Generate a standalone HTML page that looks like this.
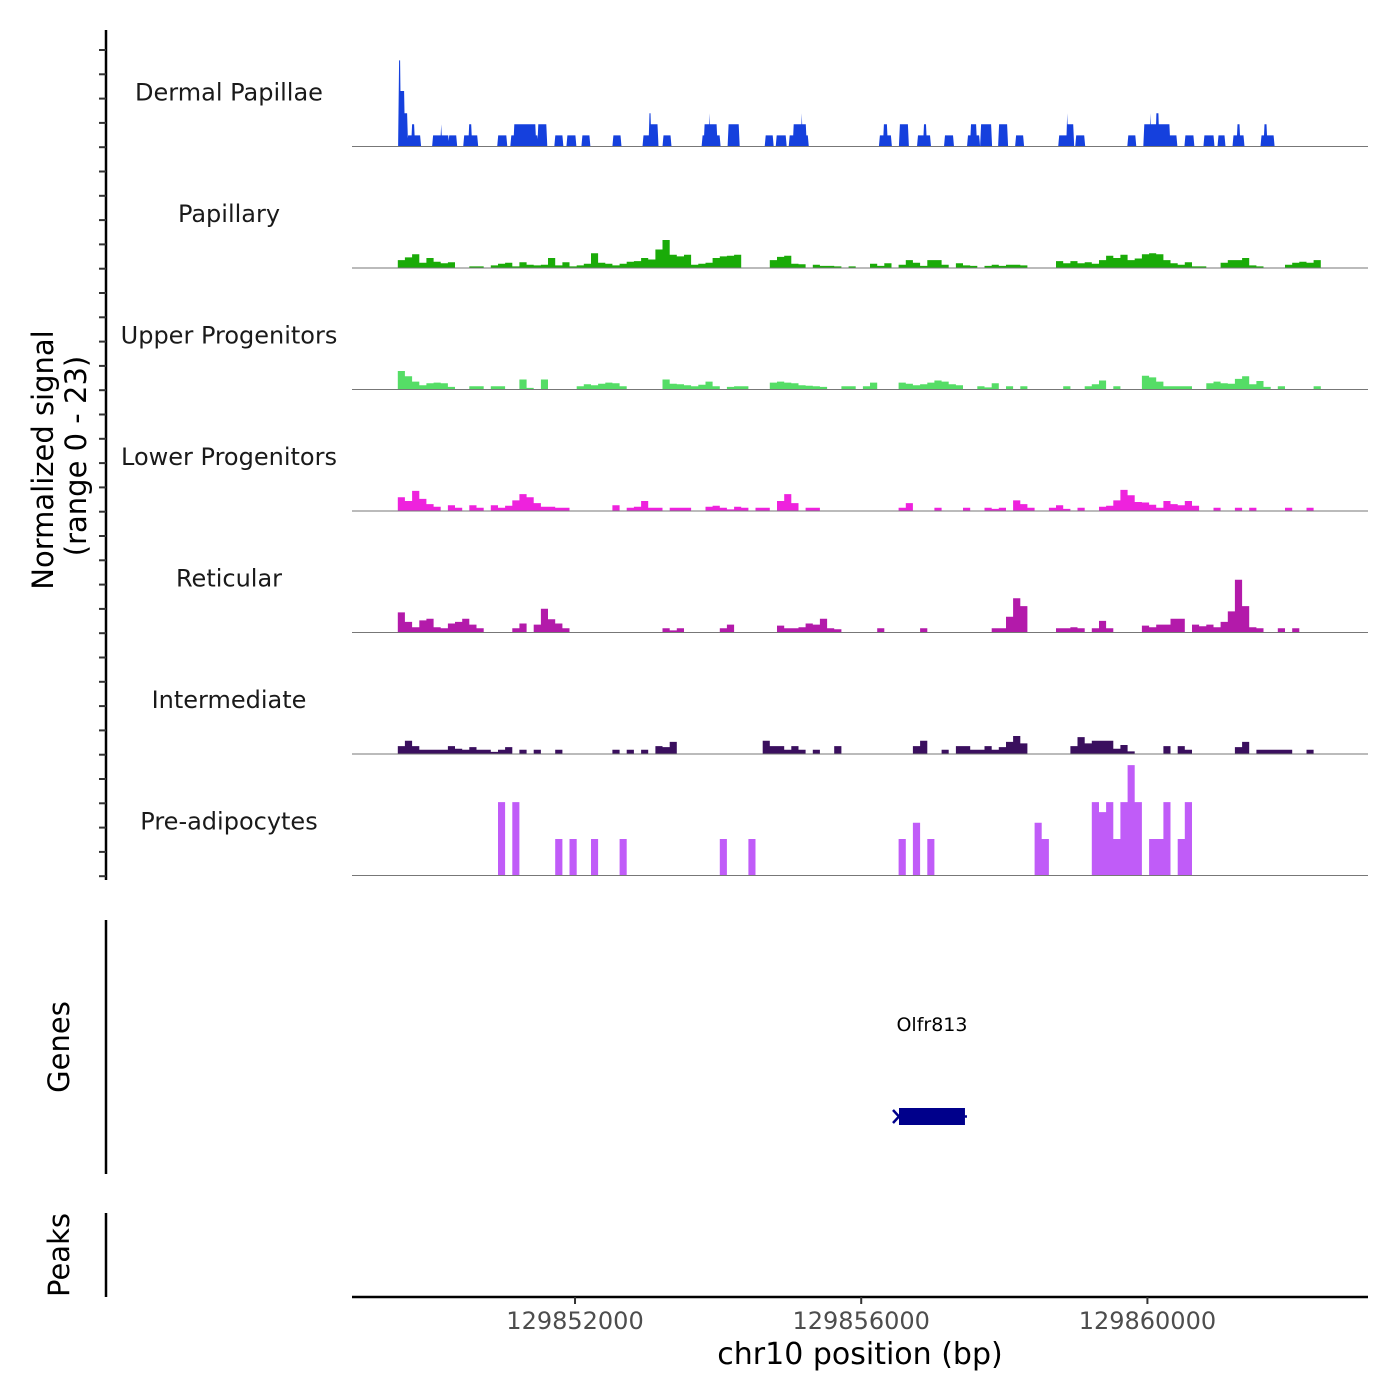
<!DOCTYPE html>
<html><head><meta charset="utf-8">
<style>
html,body{margin:0;padding:0;background:#fff;}
svg{display:block;font-family:"DejaVu Sans","Liberation Sans",sans-serif;}
</style></head>
<body>
<svg id="chart" width="1400" height="1400" viewBox="0 0 1400 1400" xmlns="http://www.w3.org/2000/svg">
<rect x="0" y="0" width="1400" height="1400" fill="#fff"/>
<g id="tracks"></g>
<g id="leftaxis"></g>
<text transform="translate(53,460) rotate(-90)" text-anchor="middle" font-size="29" fill="#000">Normalized signal</text>
<text transform="translate(86,456) rotate(-90)" text-anchor="middle" font-size="29" fill="#000">(range 0 - 23)</text>
<line x1="106" y1="920" x2="106" y2="1174" stroke="#000" stroke-width="2.5"/>
<text transform="translate(69,1047) rotate(-90)" text-anchor="middle" font-size="29" fill="#000">Genes</text>
<g id="genes"></g>
<line x1="106" y1="1213" x2="106" y2="1297" stroke="#000" stroke-width="2.5"/>
<text transform="translate(69,1255) rotate(-90)" text-anchor="middle" font-size="29" fill="#000">Peaks</text>
<g id="xaxis"></g>
<text x="860" y="1364" text-anchor="middle" font-size="30" fill="#000">chr10 position (bp)</text>
</svg>
<script>
// ---- data ----
const REGION_START = 129848883;   // bp
const REGION_END = 129863083;     // bp
const BIN_SIZE = 100;             // bp per bin (offset from REGION_START)
const BIN_OFFSET = 40;            // bp offset of first bin
const SIGNAL_MAX = 23;
const trackNames = ["Dermal Papillae","Papillary","Upper Progenitors","Lower Progenitors","Reticular","Intermediate","Pre-adipocytes"];
const trackColors = ["#1540dd","#1aab08","#55dd66","#ee22dd","#b31aaa","#3a0f5e","#c05cf8"];
const xTicks = [129852000,129856000,129860000];
const xTickLabels = ["129852000","129856000","129860000"];
// Dermal Papillae blocks: [startOffsetBp, endOffsetBp, signal]
const dermalBlocks = [[658,672,16.3],[672,728,10.5],[728,770,6.3],[784,952,2.1],[840,868,4.2],[1134,1344,2.1],[1246,1246,4.2],[1358,1456,2.1],[1568,1750,2.1],[1638,1666,4.2],[2044,2156,2.1],[2226,2590,2.1],[2268,2562,4.2],[2604,2716,4.2],[2842,2940,2.1],[3010,3122,2.1],[3220,3318,2.1],[3654,3752,2.1],[4074,4270,2.1],[4158,4172,6.3],[4172,4270,4.2],[4354,4452,2.1],[4900,5138,2.1],[4928,5096,4.2],[4998,4998,6.3],[5264,5404,4.2],[5782,5880,2.1],[5936,6062,2.1],[6118,6370,2.1],[6174,6342,4.2],[6286,6286,6.3],[7378,7532,2.1],[7434,7476,4.2],[7658,7770,4.2],[7910,8078,2.1],[7994,8022,4.2],[8288,8400,2.1],[8610,8764,2.1],[8652,8722,4.2],[8792,8932,4.2],[9044,9156,4.2],[9282,9380,2.1],[9884,10080,2.1],[9996,9996,6.3],[9996,10080,4.2],[10122,10234,2.1],[10850,10948,2.1],[11074,11522,2.1],[11074,11424,4.2],[11158,11158,6.3],[11242,11270,6.3],[11354,11354,4.2],[11648,11760,2.1],[11914,12040,2.1],[12110,12194,2.1],[12320,12460,2.1],[12376,12404,4.2],[12712,12880,2.1],[12754,12782,4.2]];
// binned signal (100 bp bins)
const papillaryBins = [0,0,0,0,0,0,1.5,2,2.6,1,1.9,1.2,0.9,1.1,0,0,0.3,0.3,0,0.5,0.8,1,0.3,1.1,0.6,0.5,0.6,1.9,0.5,1.1,0.3,0.5,0.8,2.8,1,0.8,0.5,0.8,1.2,1.3,1.9,1.6,3.5,5.3,2.5,2.2,2.5,0.6,0.8,1,1.9,2.2,2.3,2.5,0,0,0,0,1.5,2.1,2.3,0.8,0.7,0,0.6,0.4,0.4,0.3,0,0.3,0,0,0.8,0.4,0.9,0,0.6,1.5,1,0.4,1.5,1.5,0.6,0,0.9,0.5,0.4,0,0.4,0.6,0.4,0.6,0.6,0.5,0,0,0,0,1.3,0.9,1.3,0.9,1.1,0.8,1.5,2.3,1.9,2.5,1.5,1.8,2.6,2.8,2.6,1.5,0.9,0.6,1.1,0.3,0.3,0,0,1,1.5,1.5,1.9,0.5,0.3,0,0,0,0.6,1,1.2,1,1.5,0,0,0,0,0,0,0];
const upperBins = [0,0,0,0,0,0,3.5,2.5,1.5,0.8,1.2,1.3,1.2,0.5,0,0,0.6,0.6,0,0.6,0.6,0,0,1.9,0.3,0,1.9,0,0,0,0,0.6,1,0.8,1.1,1.3,1.2,0.6,0,0,0,0,0,1.9,1.1,1,0.8,0.6,0.9,1.5,0.6,0,0.5,0.6,0.6,0,0,0,1.3,1.5,1.3,1.2,0.8,0.7,0.6,0.5,0,0,0.6,0.6,0,0.6,1.3,0,0,0,1.3,1.1,0.8,1,1.3,1.7,1.5,1,0.8,0,0,0.6,0.4,1.2,0,0.6,0,0.6,0,0,0,0,0,0.6,0,0,0.6,1,1.7,0,0.6,0,0,0,2.6,2.3,1.5,0.6,0.6,0.6,0.6,0,0,1.2,1.5,1.2,1.1,2,2.5,1,1.6,0.5,0,0.6,0,0,0,0,0.6,0,0,0,0,0,0,0];
const lowerBins = [0,0,0,0,0,0,2.6,1.9,3.8,2.3,1.3,0.8,0,1.1,0.6,0,1.1,0.6,0,1.1,0.6,1,2,3.2,2.6,1.5,0.8,0.8,0.6,0.6,0,0,0,0,0,0,1.1,0,0.6,0.8,1.9,0.6,0.6,0,0.6,0.6,0.6,0,0,0.8,1,0.6,0.3,0.8,0.6,0,0.6,0.6,0,1.9,3.2,1.5,0,0.6,0.6,0,0,0,0,0,0,0,0,0,0,0,0.6,1.5,0,0,0,0.6,0,0,0,0.6,0,0,0.6,0.4,0.6,0,2,1.3,0.6,0,0,0.6,1.1,0.4,0,0.6,0,0,0.8,1,2,4,3,1.7,1.6,1.2,0.6,1.9,1.3,1.1,1.9,1,0,0,0.6,0,0,0.6,0,0.6,0,0,0,0,0.6,0,0,0.6,0,0,0,0,0,0,0,0];
const reticularBins = [0,0,0,0,0,0,3.8,2,1,2.3,2.6,1,0.8,1.7,2,2.6,1.5,0.8,0,0,0,0,0.8,1.7,0,1.5,4.5,2.5,1.7,0.8,0,0,0,0,0,0,0,0,0,0,0,0,0,0.8,0.4,0.8,0,0,0,0,0,0.8,1.5,0,0,0,0,0,0,1.3,0.8,0.8,1,1.7,1.5,2.6,0.8,0.6,0,0,0,0,0,0.8,0,0,0,0,0,0.8,0,0,0,0,0,0,0,0,0,0.8,0.8,3,6.5,5,0,0,0,0,0.8,0.8,1,0.8,0,0.8,2.2,0.8,0,0,0,0,1.3,1,1.5,1.5,2.6,2.6,0,1.5,1.2,1.5,1,2,4,10,5,1,0.8,0,0,0.8,0,0.8,0,0,0,0,0,0,0,0,0,0];
const intermediateBins = [0,0,0,0,0,0,1.5,2.5,1.5,0.8,0.8,0.8,0.8,1.5,1,0.8,1.3,0.8,0.8,0.4,0.8,1.3,0,0.8,0,0.8,0,0,0.8,0,0,0,0,0,0,0,0.8,0,0.8,0,0.8,0,1.5,1.3,2.3,0,0,0,0,0,0,0,0,0,0,0,0,2.5,1.5,1.5,0.8,1.5,0.8,0,0.8,0,0,1.5,0,0,0,0,0,0,0,0,0,0,1.5,2.5,0,0,0.8,0,1.5,1.5,0.8,0.8,1.5,0.8,1.3,2.3,3.4,2,0,0,0,0,0,0,1.5,3.2,2,2.5,2.5,2.5,1,1.7,0.5,0,0,0,0,1.5,0,1.5,0.8,0,0,0,0,0,0,1.3,2.3,0,0.8,0.8,0.8,0.8,0.8,0,0,0.8,0,0,0,0,0,0,0,0];
const preadipoBins = [0,0,0,0,0,0,0,0,0,0,0,0,0,0,0,0,0,0,0,0,13.9,0,13.9,0,0,0,0,0,6.9,0,6.9,0,0,6.9,0,0,0,6.9,0,0,0,0,0,0,0,0,0,0,0,0,0,6.9,0,0,0,6.9,0,0,0,0,0,0,0,0,0,0,0,0,0,0,0,0,0,0,0,0,6.9,0,10,0,6.9,0,0,0,0,0,0,0,0,0,0,0,0,0,0,10,6.9,0,0,0,0,0,0,13.9,12,13.9,6.9,13.9,20.9,13.9,0,6.9,6.9,13.9,0,6.9,13.9,0,0,0,0,0,0,0,0,0,0,0,0,0,0,0,0,0,0,0,0,0,0,0,0,0,0,0];
const binnedTracks = [papillaryBins, upperBins, lowerBins, reticularBins, intermediateBins, preadipoBins];
const geneName = "Olfr813";
const geneStart = 129856528, geneEnd = 129857450;

// ---- scales ----
const NS = "http://www.w3.org/2000/svg";
const X0 = 352, X1 = 1368;
const TRACK_TOP = 25, TRACK_H = 121.5;
function xScale(bp){ return X0 + (bp - REGION_START) / (REGION_END - REGION_START) * (X1 - X0); }
function baseY(i){ return TRACK_TOP + TRACK_H * (i + 1); }
function yScale(i, v){ return baseY(i) - v / SIGNAL_MAX * TRACK_H; }
function mk(tag, attrs, parent){ const e = document.createElementNS(NS, tag); for (const k in attrs) e.setAttribute(k, attrs[k]); parent.appendChild(e); return e; }

const tracksG = document.getElementById('tracks');
trackNames.forEach((name, i) => {
  const g = mk('g', {}, tracksG);
  
  
  const lbl = mk('text', {x: 229, y: baseY(i) - 46, 'text-anchor': 'middle', 'font-size': 24, fill: '#1a1a1a'}, g);
  lbl.textContent = name;
  
  
  let d = '';
  if (i === 0) {
    dermalBlocks.forEach(b => {
      const a = xScale(REGION_START + b[0]), c = xScale(REGION_START + b[1]);
      const y = yScale(i, b[2]), yb = baseY(i);
      d += `M${(a-1).toFixed(1)},${yb}L${a.toFixed(1)},${y.toFixed(1)}L${c.toFixed(1)},${y.toFixed(1)}L${(c+1).toFixed(1)},${yb}Z`;
    });
  } else {
    const bins = binnedTracks[i - 1];
    const yb = baseY(i);
    d = `M${X0},${yb}`;
    bins.forEach((v, k) => {
      const a = xScale(REGION_START + BIN_OFFSET + k * BIN_SIZE), c = xScale(REGION_START + BIN_OFFSET + (k + 1) * BIN_SIZE);
      const y = yScale(i, v);
      d += `L${a.toFixed(1)},${y.toFixed(1)}L${c.toFixed(1)},${y.toFixed(1)}`;
    });
    d += `L${xScale(REGION_START + BIN_OFFSET + bins.length * BIN_SIZE).toFixed(1)},${yb}Z`;
  }
  const p = mk('path', {d: d, fill: trackColors[i]}, g);
  
  
  const bl = mk('line', {x1: X0, x2: X1, y1: baseY(i), y2: baseY(i), stroke: '#777', 'stroke-width': 1}, g);
  
  
});

// left axis
const la = document.getElementById('leftaxis');
const al = mk('line', {x1: 106, x2: 106, y1: 30, y2: 880, stroke: '#000', 'stroke-width': 2.5}, la);


for (let k = 0; k < 35; k++) {
  const y = 50 + k * 24.3;
  const t = mk('line', {x1: 99, x2: 106, y1: y, y2: y, stroke: '#333', 'stroke-width': 2}, la);
  
  
}

// gene
const gg = document.getElementById('genes');
const gx0 = xScale(geneStart), gx1 = xScale(geneEnd);
const gl = mk('text', {x: (gx0 + gx1) / 2, y: 1031, 'text-anchor': 'middle', 'font-size': 19, fill: '#000'}, gg);
gl.textContent = geneName;


const gr = mk('rect', {x: gx0, y: 1108, width: gx1 - gx0, height: 17, fill: '#00008b'}, gg);


const gs = mk('path', {d: `M${gx0-6},1110L${gx0},1116.5L${gx0-6},1123M${gx1},1116.5L${gx1+2},1116.5`, stroke: '#00008b', 'stroke-width': 2.5, fill: 'none'}, gg);



// x axis
const xa = document.getElementById('xaxis');
const xl = mk('line', {x1: X0, x2: X1, y1: 1297, y2: 1297, stroke: '#000', 'stroke-width': 2.5}, xa);


xTicks.forEach((v, k) => {
  const x = xScale(v);
  const t = mk('line', {x1: x, x2: x, y1: 1297, y2: 1304, stroke: '#333', 'stroke-width': 2}, xa);
  
  
  const tl = mk('text', {x: x, y: 1329, 'text-anchor': 'middle', 'font-size': 24, fill: '#4d4d4d'}, xa);
  tl.textContent = xTickLabels[k];
  
  
});
</script>
</body></html>
